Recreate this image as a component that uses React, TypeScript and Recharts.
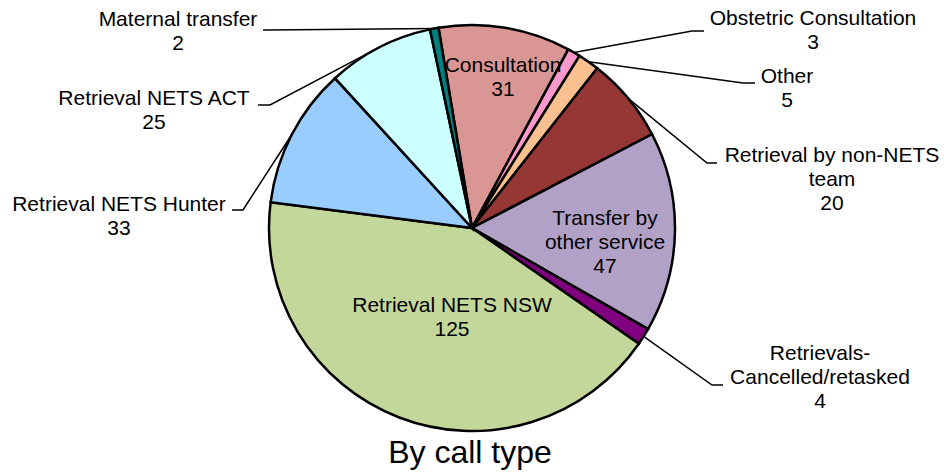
import React from 'react';
import { PieChart, Pie, Cell } from 'recharts';

const categories = [
  'Consultation',
  'Obstetric Consultation',
  'Other',
  'Retrieval by non-NETS team',
  'Transfer by other service',
  'Retrievals-Cancelled/retasked',
  'Retrieval NETS NSW',
  'Retrieval NETS Hunter',
  'Retrieval NETS ACT',
  'Maternal transfer',
];
const counts = [31, 3, 5, 20, 47, 4, 125, 33, 25, 2];
const labelText = [
  ['Consultation'],
  ['Obstetric Consultation'],
  ['Other'],
  ['Retrieval by non-NETS', 'team'],
  ['Transfer by', 'other service'],
  ['Retrievals-', 'Cancelled/retasked'],
  ['Retrieval NETS NSW'],
  ['Retrieval NETS Hunter'],
  ['Retrieval NETS ACT'],
  ['Maternal transfer'],
];

const sliceColors = [
  '#D99694', '#FF99CC', '#FAC090', '#953735', '#B2A1C7',
  '#800080', '#C4D79B', '#99CCFF', '#CCFFFF', '#008080',
];

// label placement, offsets from pie centre. leader: [elbow, end] or null for inside labels
const labelPos = [
  { x: 31, y: -163, leader: null },
  { x: 341, y: -210, leader: [[220, -197], [232, -197]] },
  { x: 315, y: -152, leader: [[271, -145], [283, -145]] },
  { x: 360, y: -73, leader: [[235, -65], [245, -65]] },
  { x: 133, y: -10, leader: null },
  { x: 348, y: 125, leader: [[240, 157], [251, 157]] },
  { x: -20, y: 77, leader: null },
  { x: -353, y: -24, leader: [[-229, -18], [-240, -18]] },
  { x: -318, y: -130, leader: [[-202, -123], [-214, -123]] },
  { x: -294, y: -209, leader: [[-204, -198], [-209, -198]] },
];

const data = categories.map((name, i) => ({ name, value: counts[i] }));

const RAD = Math.PI / 180;

const renderLabel = (props: any) => {
  const { cx, cy, midAngle, outerRadius, index } = props;
  const pos = labelPos[index];
  const lines = [...labelText[index], String(counts[index])];
  let leader = null;
  if (pos.leader) {
    const ax = cx + outerRadius * Math.cos(-midAngle * RAD);
    const ay = cy + outerRadius * Math.sin(-midAngle * RAD);
    const pts = [[ax, ay], ...pos.leader.map(([x, y]) => [cx + x, cy + y])];
    leader = (
      <polyline
        points={pts.map((p) => p.join(',')).join(' ')}
        fill="none"
        stroke="#000"
        strokeWidth={1.5}
      />
    );
  }
  return (
    <g key={`lbl-${index}`}>
      {leader}
      <text
        x={cx + pos.x}
        y={cy + pos.y}
        textAnchor="middle"
        fill="#000"
        fontSize={21}
        fontFamily="'Liberation Sans', Arial, sans-serif"
      >
        {lines.map((l, i) => (
          <tspan key={i} x={cx + pos.x} dy={i === 0 ? '0.35em' : 24}>
            {l}
          </tspan>
        ))}
      </text>
    </g>
  );
};

export default function App() {
  return (
    <div style={{ position: 'absolute', left: 0, top: 0, width: 944, height: 472, background: '#fff' }}>
      <PieChart width={944} height={472} margin={{ top: 0, right: 0, bottom: 0, left: 0 }}>
        <Pie
          data={data}
          dataKey="value"
          nameKey="name"
          cx={472}
          cy={228}
          outerRadius={203}
          startAngle={99.5}
          endAngle={-260.5}
          stroke="#000"
          strokeWidth={2.5}
          label={renderLabel}
          labelLine={false}
          isAnimationActive={false}
        >
          {data.map((d, i) => (
            <Cell key={d.name} fill={sliceColors[i]} />
          ))}
        </Pie>
        <text
          x={470}
          y={452}
          textAnchor="middle"
          dominantBaseline="central"
          fontSize={32}
          fill="#000"
          fontFamily="'Liberation Sans', Arial, sans-serif"
        >
          By call type
        </text>
      </PieChart>
    </div>
  );
}
